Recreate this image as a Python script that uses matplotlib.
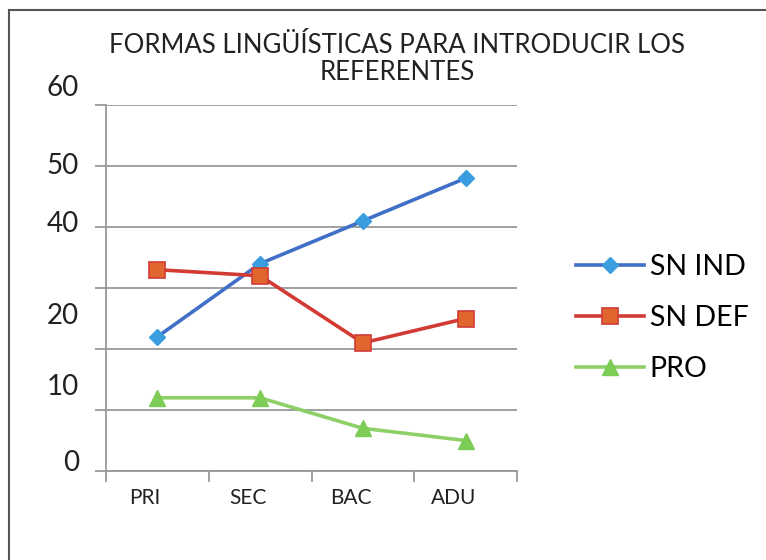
import matplotlib.pyplot as plt
from matplotlib.lines import Line2D
from matplotlib.transforms import blended_transform_factory

# data
categories = ["PRI", "SEC", "BAC", "ADU"]
sn_ind = [22, 34, 41, 48]
sn_def = [33, 32, 21, 25]
pro = [12, 12, 7, 5]

# the y labels in the original sit a bit off the grid lines
ytick_labels = ["60", "50", "40", "20", "10", "0"]
ytick_label_pos = [62.8, 50.0, 40.5, 25.4, 13.8, 1.3]

plt.rcParams['font.family'] = ['Lato', 'DejaVu Sans']

fig = plt.figure(figsize=(7.66, 5.6), dpi=100)
ax = fig.add_axes([106/766, 1 - 471/560, (517 - 106)/766, (471 - 105)/560])

x = list(range(len(categories)))
ax.plot(x, sn_ind, color="#3f6fc6", lw=2.6, marker="D", ms=8,
        mfc="#3a9de0", mec="#3a9de0", label="SN IND", zorder=3)
ax.plot(x, sn_def, color="#d23b34", lw=2.6, marker="s", ms=11,
        mfc="#e0652e", mec="#d23b34", mew=1.2, label="SN DEF", zorder=3)
ax.plot(x, pro, color="#8dd068", lw=2.6, marker="^", ms=11,
        mfc="#7ccc56", mec="#7ccc56", label="PRO", zorder=3)

ax.set_xlim(-0.5, len(categories) - 0.5)
ax.set_ylim(0, 60)
ax.set_xticks([i - 0.5 for i in range(len(categories) + 1)])
ax.set_xticklabels([])
ax.tick_params(axis="x", which="major", length=8, color="#999999", width=1.3)

# category labels sit slightly left of the marker positions in the original
for i, cat in enumerate(categories):
    ax.text(i - 0.12, -0.075, cat, transform=ax.get_xaxis_transform(),
            ha="center", va="center", fontsize=15, color="#222222")

ax.set_yticks(range(0, 70, 10))
ax.set_yticklabels([])
ax.tick_params(axis="y", length=8, color="#999999", width=1.3)
ax.grid(axis="y", color="#999999", lw=1.3)
ax.set_axisbelow(True)

trans = blended_transform_factory(fig.transFigure, ax.transData)
for lab, pos in zip(ytick_labels, ytick_label_pos):
    fig.text(79/766, pos, lab, transform=trans, ha="right", va="center",
             fontsize=20, color="#222222")

for side in ["top", "right"]:
    ax.spines[side].set_visible(False)
for side in ["left", "bottom"]:
    ax.spines[side].set_color("#999999")
    ax.spines[side].set_linewidth(1.3)

fig.text(397/766, 1 - 59/560, "FORMAS LINGÜÍSTICAS PARA INTRODUCIR LOS\nREFERENTES",
         ha="center", va="center", fontsize=18.5, color="#222222", linespacing=1.1)

fig.legend(loc="center left", bbox_to_anchor=(550/766, 1 - 318/560), frameon=False,
           fontsize=20.5, handlelength=2.4, labelspacing=0.88, handletextpad=0.2)

# border only on the top and left edges, as in the original
fig.add_artist(Line2D([9/766, 1], [1 - 10/560, 1 - 10/560], transform=fig.transFigure,
                      color="#555555", lw=1.5))
fig.add_artist(Line2D([9/766, 9/766], [0, 1 - 10/560], transform=fig.transFigure,
                      color="#555555", lw=1.5))

fig.savefig("out.png", dpi=100)
